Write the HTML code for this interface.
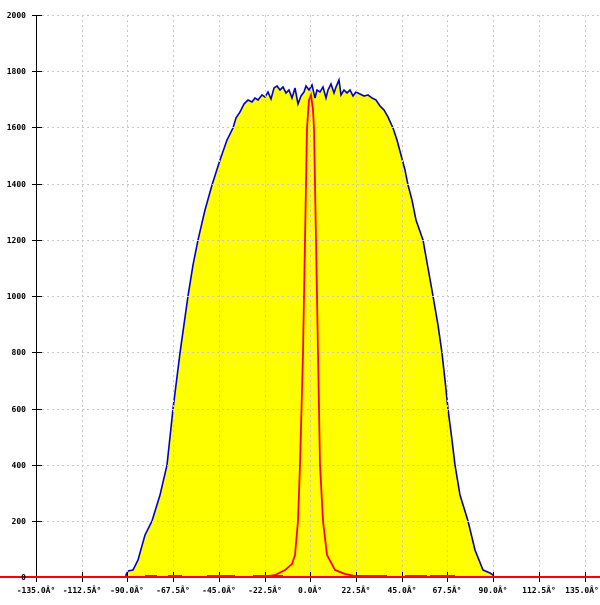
<!DOCTYPE html>
<html><head><style>
html,body{margin:0;padding:0;background:#fff;}
svg text{font-family:"DejaVu Sans Mono","Liberation Mono",monospace;font-size:8px;font-weight:bold;fill:#000;}
</style></head><body>
<svg width="600" height="600" xmlns="http://www.w3.org/2000/svg">
<polygon fill="#ffff00" stroke="#0000cc" stroke-width="1.6" points="126,577 126,575 128,571 133,570 138,560 145,535 152,521 160,495 167,465 173,409 180,353 188,296 193,265 198,240 205,210 212,185 220,160 227,140 233,128 236,118 240,112 244,104 248,100 252,102 255,98 258,100 262,95 265,97 268,92 271,99 274,88 277,86 280,90 283,87 286,93 289,90 292,98 295,88 298,104 301,96 304,92 306,86 309,90 312,85 315,98 317,90 320,92 323,87 326,98 328,90 331,84 334,93 336,87 339,80 341,95 344,90 347,93 350,90 353,96 356,92 360,94 364,96 368,95 372,98 376,100 380,106 384,110 388,117 393,128 397,140 401,155 405,170 408,185 412,200 416,220 423,240 428,268 433,296 438,325 442,353 445,380 448,409 452,440 455,465 460,495 468,521 475,550 483,570 490,573 493,575 494,577"/>
<g stroke="#c8c8c8" stroke-dasharray="2,3" stroke-width="1">
<line x1="37" y1="15.5" x2="600" y2="15.5"/><line x1="37" y1="71.5" x2="600" y2="71.5"/><line x1="37" y1="127.5" x2="600" y2="127.5"/><line x1="37" y1="184.5" x2="600" y2="184.5"/><line x1="37" y1="240.5" x2="600" y2="240.5"/><line x1="37" y1="296.5" x2="600" y2="296.5"/><line x1="37" y1="352.5" x2="600" y2="352.5"/><line x1="37" y1="409.5" x2="600" y2="409.5"/><line x1="37" y1="465.5" x2="600" y2="465.5"/><line x1="37" y1="521.5" x2="600" y2="521.5"/>
<line x1="82.5" y1="15" x2="82.5" y2="577"/><line x1="127.5" y1="15" x2="127.5" y2="577"/><line x1="173.5" y1="15" x2="173.5" y2="577"/><line x1="219.5" y1="15" x2="219.5" y2="577"/><line x1="265.5" y1="15" x2="265.5" y2="577"/><line x1="310.5" y1="15" x2="310.5" y2="577"/><line x1="356.5" y1="15" x2="356.5" y2="577"/><line x1="402.5" y1="15" x2="402.5" y2="577"/><line x1="447.5" y1="15" x2="447.5" y2="577"/><line x1="493.5" y1="15" x2="493.5" y2="577"/><line x1="539.5" y1="15" x2="539.5" y2="577"/><line x1="585.5" y1="15" x2="585.5" y2="577"/>
</g>
<line x1="36.5" y1="15" x2="36.5" y2="577" stroke="#000" stroke-width="1"/>
<g stroke="#000"><line x1="32" y1="15.5" x2="42" y2="15.5"/><line x1="32" y1="71.5" x2="42" y2="71.5"/><line x1="32" y1="127.5" x2="42" y2="127.5"/><line x1="32" y1="184.5" x2="42" y2="184.5"/><line x1="32" y1="240.5" x2="42" y2="240.5"/><line x1="32" y1="296.5" x2="42" y2="296.5"/><line x1="32" y1="352.5" x2="42" y2="352.5"/><line x1="32" y1="409.5" x2="42" y2="409.5"/><line x1="32" y1="465.5" x2="42" y2="465.5"/><line x1="32" y1="521.5" x2="42" y2="521.5"/>
<line x1="36.5" y1="572" x2="36.5" y2="582"/><line x1="82.5" y1="572" x2="82.5" y2="582"/><line x1="127.5" y1="572" x2="127.5" y2="582"/><line x1="173.5" y1="572" x2="173.5" y2="582"/><line x1="219.5" y1="572" x2="219.5" y2="582"/><line x1="265.5" y1="572" x2="265.5" y2="582"/><line x1="310.5" y1="572" x2="310.5" y2="582"/><line x1="356.5" y1="572" x2="356.5" y2="582"/><line x1="402.5" y1="572" x2="402.5" y2="582"/><line x1="447.5" y1="572" x2="447.5" y2="582"/><line x1="493.5" y1="572" x2="493.5" y2="582"/><line x1="539.5" y1="572" x2="539.5" y2="582"/><line x1="585.5" y1="572" x2="585.5" y2="582"/></g>
<g fill="#b03020"><rect x="145" y="575" width="12" height="3"/><rect x="168" y="575" width="14" height="3"/><rect x="207" y="575" width="28" height="3"/><rect x="253" y="575" width="30" height="3"/><rect x="357" y="575" width="30" height="3"/><rect x="405" y="575" width="22" height="3"/><rect x="430" y="575" width="25" height="3"/></g>
<polyline fill="none" stroke="#ff0000" stroke-width="1.8" points="262,577 275,575 285,570 292,564 295,555 298,521 300,465 303,353 305,240 307,128 309,100 311,95 313,110 314,128 316,240 318,353 320,465 323,521 327,555 335,570 345,574 360,577"/>
<line x1="0" y1="577" x2="600" y2="577" stroke="#ff0000" stroke-width="2"/>
<g text-anchor="end">
<text x="26" y="18">2000</text><text x="26" y="74">1800</text><text x="26" y="130">1600</text><text x="26" y="187">1400</text><text x="26" y="243">1200</text><text x="26" y="299">1000</text><text x="26" y="355">800</text><text x="26" y="412">600</text><text x="26" y="468">400</text><text x="26" y="524">200</text><text x="26" y="580">0</text>
</g>
<g text-anchor="middle">
<text x="36" y="593">-135.0Â°</text><text x="82" y="593">-112.5Â°</text><text x="127" y="593">-90.0Â°</text><text x="173" y="593">-67.5Â°</text><text x="219" y="593">-45.0Â°</text><text x="265" y="593">-22.5Â°</text><text x="310" y="593">0.0Â°</text><text x="356" y="593">22.5Â°</text><text x="402" y="593">45.0Â°</text><text x="447" y="593">67.5Â°</text><text x="493" y="593">90.0Â°</text><text x="539" y="593">112.5Â°</text><text x="582" y="593">135.0Â°</text>
</g>
</svg>
</body></html>
